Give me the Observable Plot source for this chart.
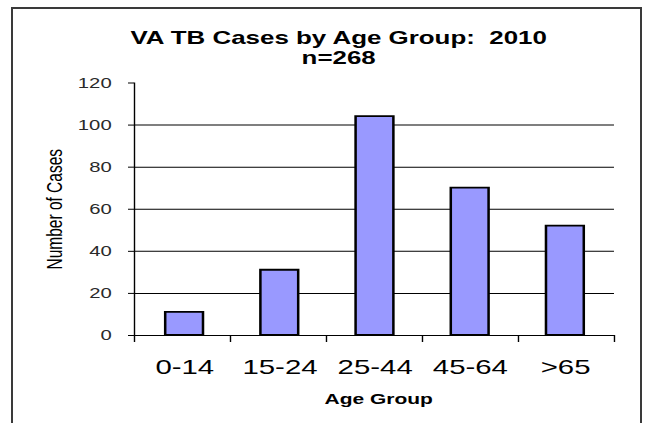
<!DOCTYPE html>
<html><head><meta charset="utf-8">
<script src="https://cdn.jsdelivr.net/npm/d3@7"></script>
<script src="https://cdn.jsdelivr.net/npm/@observablehq/plot@0.6"></script>
<style>
html,body{margin:0;padding:0;background:#fff;}
#wrap{position:relative;width:648px;height:423px;overflow:hidden;}
#wrap svg{position:absolute;left:0;top:0;transform-origin:0 0;}
#wrap svg line, #wrap svg rect, #wrap svg path{vector-effect:non-scaling-stroke;}
#border{position:absolute;left:11px;top:7px;width:631px;height:440px;border:2px solid #3a3a3a;box-sizing:border-box;pointer-events:none;}
svg text{white-space:pre;}
</style></head><body>
<div id="wrap"><div id="border"></div></div>
<script>
const ageGroups = ["0-14", "15-24", "25-44", "45-64", ">65"];
const cases = [11, 31, 104, 70, 52];
const yTicks = [0, 20, 40, 60, 80, 100, 120];
const gridValues = [20, 40, 60, 80, 100];
const titleLines = ["VA TB Cases by Age Group:  2010", "n=268"];
const xTitle = "Age Group";
const yTitle = "Number of Cases";

const data = ageGroups.map((g, i) => ({group: g, count: cases[i]}));
const S = 1.4; // horizontal stretch of the reference image

const edgeTicks = (index, scales, values, dims) => {
  const n = ageGroups.length;
  const x0 = dims.marginLeft, x1 = dims.width - dims.marginRight;
  const step = (x1 - x0) / n;
  const y0 = scales.y(0), yTop = scales.y(yTicks[yTicks.length - 1]);
  const off = 0.5 / S;
  const g = d3.create("svg:g").attr("stroke", "#000").attr("stroke-width", 1);
  g.selectAll("line.e").data(d3.range(n + 1)).join("line")
    .attr("x1", i => x0 + i * step + off).attr("x2", i => x0 + i * step + off)
    .attr("y1", y0).attr("y2", y0 + 7);
  g.append("line").attr("x1", x0 + off).attr("x2", x0 + off).attr("y1", yTop).attr("y2", y0 + 0.5);
  return g.node();
};

const chart = Plot.plot({
  width: 648 / S, height: 423,
  marginLeft: 134 / S, marginRight: 34 / S, marginTop: 82.5, marginBottom: 88,
  style: {fontFamily: "'Liberation Sans', Arial, sans-serif", color: "#000", background: "transparent", overflow: "visible"},
  x: {type: "band", domain: ageGroups, paddingInner: 0.6, paddingOuter: 0.3, label: null},
  y: {domain: [0, 120], label: null},
  marks: [
    Plot.ruleY(gridValues, {stroke: "#000", strokeWidth: 1}),
    Plot.barY(data, {x: "group", y: "count", fill: "#9999ff", stroke: "#000", strokeWidth: 1.8}),
    Plot.ruleY([0], {stroke: "#000", strokeWidth: 1}),
    edgeTicks,
    Plot.axisY({ticks: yTicks, tickSize: 6 / S, tickPadding: 17 / S, fontSize: 14.5, label: null}),
    Plot.axisX({tickSize: 0, tickPadding: 24, fontSize: 21, label: null}),
    Plot.text([xTitle], {text: d => d, frameAnchor: "bottom", lineAnchor: "middle", dx: 4 / S, dy: 64, fontSize: 15, fontWeight: "bold"}),
    Plot.text([yTitle], {text: d => d, frameAnchor: "left", textAnchor: "middle", lineAnchor: "middle", rotate: -90, dx: -80 / S, fontSize: 15.5}),
    Plot.text([titleLines[0]], {text: d => d, frameAnchor: "top", lineAnchor: "middle", dx: -36 / S, dy: -45, fontSize: 18.5, fontWeight: "bold"}),
    Plot.text([titleLines[1]], {text: d => d, frameAnchor: "top", lineAnchor: "middle", dx: -36 / S, dy: -24.5, fontSize: 18.5, fontWeight: "bold"})
  ]
});

chart.style.transform = `scaleX(${S})`;
document.getElementById("wrap").appendChild(chart);
d3.select(chart).selectAll("g[aria-label='y-axis tick label'] text").attr("fill", "#2a2a2a");
</script>
</body></html>
